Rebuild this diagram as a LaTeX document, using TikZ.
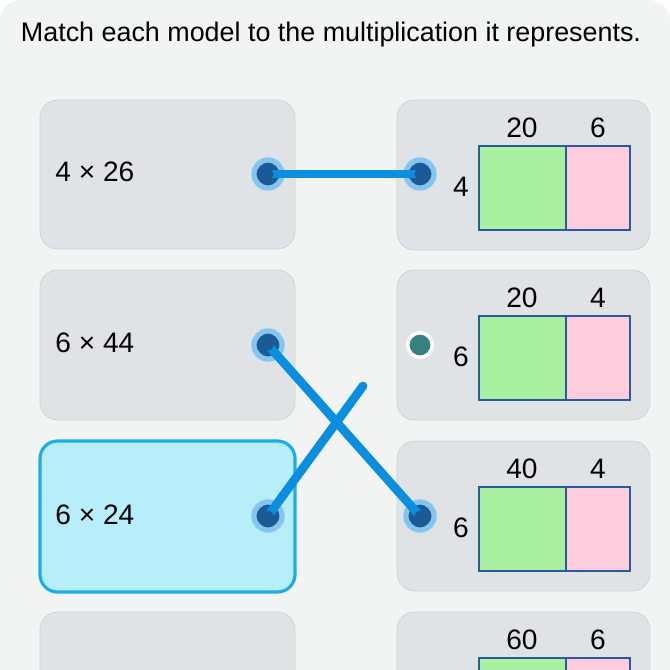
\documentclass[tikz,border=0pt]{standalone}
\usepackage{fontspec}
\setmainfont{Liberation Sans}
\definecolor{bg}{HTML}{F2F4F4}
\definecolor{card}{HTML}{DFE3E6}
\definecolor{cardline}{HTML}{CDD2D6}
\definecolor{sel}{HTML}{B8EEFA}
\definecolor{selline}{HTML}{1AAEE8}
\definecolor{wireblue}{HTML}{0A8EDF}
\definecolor{dotin}{HTML}{1C5A96}
\definecolor{greenbox}{HTML}{A8F0A0}
\definecolor{pinkbox}{HTML}{FFCCDD}
\definecolor{boxline}{HTML}{2A5A9A}
\tikzset{
  cardbox/.style={fill=card,draw=cardline,rounded corners=10pt},
  selbox/.style={fill=sel,draw=selline,line width=1.8pt,rounded corners=10pt},
  dot/.style={circle,minimum size=16pt,inner sep=0pt,fill=dotin,draw=wireblue!50,line width=3pt},
  freedot/.style={circle,minimum size=14pt,inner sep=0pt,fill=teal!55!gray,draw=white,line width=2pt},
  link/.style={wireblue,line width=5pt,line cap=round},
  lbl/.style={font=\fontsize{16}{20}\selectfont}
}
\begin{document}
\begin{tikzpicture}[x=0.02cm,y=-0.02cm]
  \useasboundingbox (0,0) rectangle (670,670);
  \clip (0,0) rectangle (670,670);
  \fill[bg,rounded corners=12pt] (0,0) rectangle (670,700);
  \node[font=\fontsize{15.3}{19}\selectfont] (title) at (331,35) {Match each model to the multiplication it represents.};

  % left cards
  \draw[cardbox] (40,100) rectangle (295,249);
  \draw[cardbox] (40,270) rectangle (295,420);
  \draw[selbox] (40,441) rectangle (295,592);
  \draw[cardbox] (40,612) rectangle (295,700);
  \foreach \y/\t in {172/4 × 26,343/6 × 44,515/6 × 24}
    \node[lbl,anchor=west,inner sep=0pt] at (55,\y) {\t};

  % right cards with area models
  \foreach \top/\a/\b/\n in {100/20/6/4,270/20/4/6,441/40/4/6,612/60/6/} {
    \draw[cardbox] (397,\top) rectangle (650,\top+150);
    \draw[boxline,thick,fill=greenbox] (479,\top+46) rectangle (566,\top+130);
    \draw[boxline,thick,fill=pinkbox] (566,\top+46) rectangle (630,\top+130);
    \node[lbl] at (522,\top+28) {\a};
    \node[lbl] at (598,\top+28) {\b};
    \node[lbl] at (461,\top+87) {\n};
  }

  % dots
  \node[dot] (l1) at (268,174) {};
  \node[dot] (l2) at (268,345) {};
  \node[dot] (l3) at (268,516) {};
  \node[dot] (r1) at (420,174) {};
  \node[freedot] (r2) at (420,345) {};
  \node[dot] (r3) at (420,516) {};
  \coordinate (loose) at (363,386);

  % wires
  \draw[link] (l1.center) -- (r1.center);
  \draw[link] (l2.center) -- (r3.center);
  \draw[link] (l3.center) -- (loose);
  \foreach \d in {l1,l2,l3,r1,r3}
    \fill[dotin] (\d) circle (5.5);
\end{tikzpicture}
\end{document}
